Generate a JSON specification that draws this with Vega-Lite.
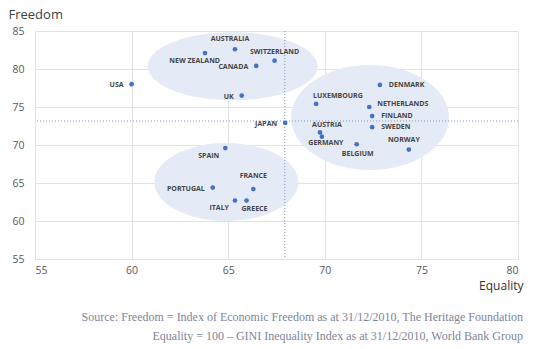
{
  "$schema": "https://vega.github.io/schema/vega-lite/v6.json",
  "autosize": "none",
  "width": 483,
  "height": 228,
  "padding": {"left": 35, "top": 31, "right": 16, "bottom": 90},
  "background": "white",
  "config": {"view": {"stroke": null}},
  "title": {
    "text": ["Source: Freedom = Index of Economic Freedom as at 31/12/2010, The Heritage Foundation", "Equality = 100 – GINI Inequality Index as at 31/12/2010, World Bank Group"],
    "orient": "bottom",
    "anchor": "end",
    "frame": "bounds",
    "font": "Liberation Serif",
    "fontSize": 12,
    "fontWeight": "normal",
    "color": "#80849a",
    "lineHeight": 19,
    "offset": 21
  },
  "datasets": {
    "countries": [
      {"country": "USA", "equality": 60.0, "freedom": 78.0},
      {"country": "NEW ZEALAND", "equality": 63.8, "freedom": 82.1},
      {"country": "AUSTRALIA", "equality": 65.35, "freedom": 82.6},
      {"country": "SWITZERLAND", "equality": 67.4, "freedom": 81.1},
      {"country": "CANADA", "equality": 66.45, "freedom": 80.4},
      {"country": "UK", "equality": 65.7, "freedom": 76.5},
      {"country": "JAPAN", "equality": 67.95, "freedom": 72.9},
      {"country": "DENMARK", "equality": 72.85, "freedom": 77.9},
      {"country": "LUXEMBOURG", "equality": 69.55, "freedom": 75.4},
      {"country": "NETHERLANDS", "equality": 72.3, "freedom": 75.0},
      {"country": "FINLAND", "equality": 72.45, "freedom": 73.8},
      {"country": "SWEDEN", "equality": 72.45, "freedom": 72.35},
      {"country": "AUSTRIA", "equality": 69.75, "freedom": 71.65},
      {"country": "GERMANY", "equality": 69.85, "freedom": 71.1},
      {"country": "BELGIUM", "equality": 71.65, "freedom": 70.1},
      {"country": "NORWAY", "equality": 74.35, "freedom": 69.4},
      {"country": "SPAIN", "equality": 64.85, "freedom": 69.6},
      {"country": "PORTUGAL", "equality": 64.2, "freedom": 64.4},
      {"country": "FRANCE", "equality": 66.3, "freedom": 64.2},
      {"country": "ITALY", "equality": 65.35, "freedom": 62.7},
      {"country": "GREECE", "equality": 65.95, "freedom": 62.7}
    ],
    "clusters": [
      {"cluster": "Anglo", "equality": 65.23, "freedom": 80.35},
      {"cluster": "Nordic", "equality": 72.34, "freedom": 73.62},
      {"cluster": "South", "equality": 64.9, "freedom": 65.13}
    ],
    "averages": [
      {"avgEquality": 67.93, "avgFreedom": 73.16}
    ]
  },
  "encoding": {
    "x": {
      "field": "equality", "type": "quantitative",
      "scale": {"domain": [55, 80], "nice": false, "zero": false},
      "axis": {
        "values": [55, 60, 65, 70, 75, 80],
        "title": "Equality",
        "titleAlign": "right", "titleAnchor": "end", "titleX": 488, "titleY": 26,
        "titleBaseline": "middle",
        "titleFont": "Open Sans", "titleFontSize": 12, "titleFontWeight": "normal", "titleColor": "#333333",
        "labelFont": "Open Sans", "labelFontSize": 10.5, "labelColor": "#595959",
        "labelPadding": 6, "ticks": false, "domain": false,
        "grid": true, "gridColor": "#e2e2e2", "gridWidth": 1
      }
    },
    "y": {
      "field": "freedom", "type": "quantitative",
      "scale": {"domain": [55, 85], "nice": false, "zero": false},
      "axis": {
        "values": [55, 60, 65, 70, 75, 80, 85],
        "title": "Freedom",
        "titleAngle": 0, "titleAlign": "left", "titleBaseline": "middle",
        "titleX": -27, "titleY": -17,
        "titleFont": "Open Sans", "titleFontSize": 13, "titleFontWeight": "normal", "titleColor": "#404040",
        "labelFont": "Open Sans", "labelFontSize": 10.5, "labelColor": "#595959",
        "labelPadding": 11, "ticks": false, "domain": false,
        "grid": true, "gridColor": "#e2e2e2", "gridWidth": 1
      }
    }
  },
  "layer": [
    {
      "data": {"name": "clusters"},
      "mark": {"type": "point", "filled": true, "opacity": 1, "size": 4, "fill": "#e5ebf6", "strokeWidth": 0},
      "encoding": {
        "shape": {
          "field": "cluster", "type": "nominal", "legend": null,
          "scale": {
            "domain": ["Anglo", "Nordic", "South"],
            "range": [
              "M-85,0 A85,34 0 1,1 85,0 A85,34 0 1,1 -85,0 Z",
              "M-79,0 A79,52.5 0 1,1 79,0 A79,52.5 0 1,1 -79,0 Z",
              "M-72,0 A72,39 0 1,1 72,0 A72,39 0 1,1 -72,0 Z"
            ]
          }
        }
      }
    },
    {
      "data": {"name": "averages"},
      "mark": {"type": "rule", "color": "#7f93c2", "strokeWidth": 1, "strokeDash": [1, 2]},
      "encoding": {"x": {"field": "avgEquality", "type": "quantitative"}, "y": null}
    },
    {
      "data": {"name": "averages"},
      "mark": {"type": "rule", "color": "#7f93c2", "strokeWidth": 1, "strokeDash": [1, 2]},
      "encoding": {"y": {"field": "avgFreedom", "type": "quantitative"}, "x": null}
    },
    {
      "data": {"name": "countries"},
      "mark": {"type": "point", "filled": true, "opacity": 1, "size": 22, "color": "#4472c4"}
    },
    {
      "data": {"name": "countries"},
      "transform": [{"filter": {"field": "country", "oneOf": ["USA", "CANADA", "UK", "JAPAN", "PORTUGAL"]}}],
      "mark": {"type": "text", "align": "right", "baseline": "middle", "dx": -8, "dy": 1, "font": "Open Sans", "fontSize": 7, "fontWeight": "bold", "color": "#454545"},
      "encoding": {"text": {"field": "country"}}
    },
    {
      "data": {"name": "countries"},
      "transform": [{"filter": {"field": "country", "oneOf": ["DENMARK", "FINLAND", "SWEDEN"]}}],
      "mark": {"type": "text", "align": "left", "baseline": "middle", "dx": 9, "dy": 0, "font": "Open Sans", "fontSize": 7, "fontWeight": "bold", "color": "#454545"},
      "encoding": {"text": {"field": "country"}}
    },
    {
      "data": {"name": "countries"},
      "transform": [{"filter": {"field": "country", "oneOf": ["NETHERLANDS"]}}],
      "mark": {"type": "text", "align": "left", "baseline": "middle", "dx": 8, "dy": -3, "font": "Open Sans", "fontSize": 7, "fontWeight": "bold", "color": "#454545"},
      "encoding": {"text": {"field": "country"}}
    },
    {
      "data": {"name": "countries"},
      "transform": [{"filter": {"field": "country", "oneOf": ["AUSTRALIA", "NORWAY"]}}],
      "mark": {"type": "text", "align": "center", "baseline": "middle", "dx": -5, "dy": -10, "font": "Open Sans", "fontSize": 7, "fontWeight": "bold", "color": "#454545"},
      "encoding": {"text": {"field": "country"}}
    },
    {
      "data": {"name": "countries"},
      "transform": [{"filter": {"field": "country", "oneOf": ["SWITZERLAND"]}}],
      "mark": {"type": "text", "align": "center", "baseline": "middle", "dx": 0, "dy": -9, "font": "Open Sans", "fontSize": 7, "fontWeight": "bold", "color": "#454545"},
      "encoding": {"text": {"field": "country"}}
    },
    {
      "data": {"name": "countries"},
      "transform": [{"filter": {"field": "country", "oneOf": ["FRANCE"]}}],
      "mark": {"type": "text", "align": "center", "baseline": "middle", "dx": 0, "dy": -13, "font": "Open Sans", "fontSize": 7, "fontWeight": "bold", "color": "#454545"},
      "encoding": {"text": {"field": "country"}}
    },
    {
      "data": {"name": "countries"},
      "transform": [{"filter": {"field": "country", "oneOf": ["AUSTRIA"]}}],
      "mark": {"type": "text", "align": "center", "baseline": "middle", "dx": 7, "dy": -7, "font": "Open Sans", "fontSize": 7, "fontWeight": "bold", "color": "#454545"},
      "encoding": {"text": {"field": "country"}}
    },
    {
      "data": {"name": "countries"},
      "transform": [{"filter": {"field": "country", "oneOf": ["LUXEMBOURG"]}}],
      "mark": {"type": "text", "align": "left", "baseline": "middle", "dx": -3, "dy": -8, "font": "Open Sans", "fontSize": 7, "fontWeight": "bold", "color": "#454545"},
      "encoding": {"text": {"field": "country"}}
    },
    {
      "data": {"name": "countries"},
      "transform": [{"filter": {"field": "country", "oneOf": ["BELGIUM"]}}],
      "mark": {"type": "text", "align": "center", "baseline": "middle", "dx": 1, "dy": 10, "font": "Open Sans", "fontSize": 7, "fontWeight": "bold", "color": "#454545"},
      "encoding": {"text": {"field": "country"}}
    },
    {
      "data": {"name": "countries"},
      "transform": [{"filter": {"field": "country", "oneOf": ["GERMANY"]}}],
      "mark": {"type": "text", "align": "center", "baseline": "middle", "dx": 4, "dy": 6, "font": "Open Sans", "fontSize": 7, "fontWeight": "bold", "color": "#454545"},
      "encoding": {"text": {"field": "country"}}
    },
    {
      "data": {"name": "countries"},
      "transform": [{"filter": {"field": "country", "oneOf": ["SPAIN", "ITALY"]}}],
      "mark": {"type": "text", "align": "right", "baseline": "middle", "dx": -6, "dy": 8, "font": "Open Sans", "fontSize": 7, "fontWeight": "bold", "color": "#454545"},
      "encoding": {"text": {"field": "country"}}
    },
    {
      "data": {"name": "countries"},
      "transform": [{"filter": {"field": "country", "oneOf": ["NEW ZEALAND"]}}],
      "mark": {"type": "text", "align": "right", "baseline": "middle", "dx": 15, "dy": 8, "font": "Open Sans", "fontSize": 7, "fontWeight": "bold", "color": "#454545"},
      "encoding": {"text": {"field": "country"}}
    },
    {
      "data": {"name": "countries"},
      "transform": [{"filter": {"field": "country", "oneOf": ["GREECE"]}}],
      "mark": {"type": "text", "align": "left", "baseline": "middle", "dx": -5, "dy": 9, "font": "Open Sans", "fontSize": 7, "fontWeight": "bold", "color": "#454545"},
      "encoding": {"text": {"field": "country"}}
    }
  ]
}
